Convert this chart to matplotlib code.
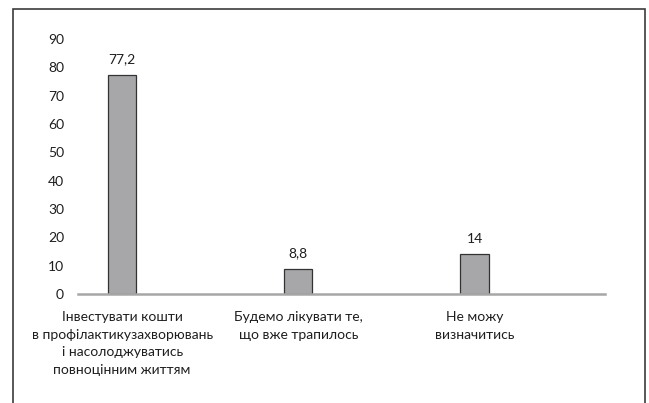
import matplotlib

matplotlib.use("Agg")
import matplotlib.pyplot as plt
from matplotlib.patches import Rectangle

categories = [
    "Інвестувати кошти\nв профілактикузахворювань\nі насолоджуватись\nповноцінним життям",
    "Будемо лікувати те,\nщо вже трапилось",
    "Не можу\nвизначитись",
]
values = [77.2, 8.8, 14]
value_labels = ["77,2", "8,8", "14"]
y_ticks = [0, 10, 20, 30, 40, 50, 60, 70, 80, 90]

plt.rcParams["font.family"] = ["Lato", "DejaVu Sans"]

W, H = 649, 403
fig = plt.figure(figsize=(W / 100, H / 100), dpi=100)

# outer frame, bottom edge runs off the picture
fig.patches.append(
    Rectangle((12.7 / W, -0.05), (645 - 12.7) / W, 1.05 - 9.3 / H,
              transform=fig.transFigure, fill=False,
              edgecolor="#3c3c3c", linewidth=1.2)
)

ax = fig.add_axes([78 / W, (H - 294) / H, (605 - 78) / W, 255 / H])
x = list(range(len(values)))
ax.bar(x, values, width=0.16, color="#a7a7a9", edgecolor="#333333",
       linewidth=0.9, zorder=2)

for xi, v, lab in zip(x, values, value_labels):
    ax.annotate(lab, (xi, v), xytext=(0, 7), textcoords="offset points",
                ha="center", va="bottom", fontsize=10, color="#1e1e1e")

ax.set_xlim(-0.25, 2.74)
ax.set_ylim(0, 90)
ax.set_yticks(y_ticks)
ax.set_xticks(x)
ax.set_xticklabels(categories, fontsize=10, color="#1e1e1e", linespacing=1.55)
ax.tick_params(axis="y", length=0, pad=10, labelsize=10, labelcolor="#1e1e1e")
ax.tick_params(axis="x", length=0, pad=12.5)

for side in ["top", "right", "left"]:
    ax.spines[side].set_visible(False)
ax.spines["bottom"].set_color("#a6a6a6")
ax.spines["bottom"].set_linewidth(1.8)
ax.spines["bottom"].set_zorder(3)

fig.savefig("out.png", dpi=100)
